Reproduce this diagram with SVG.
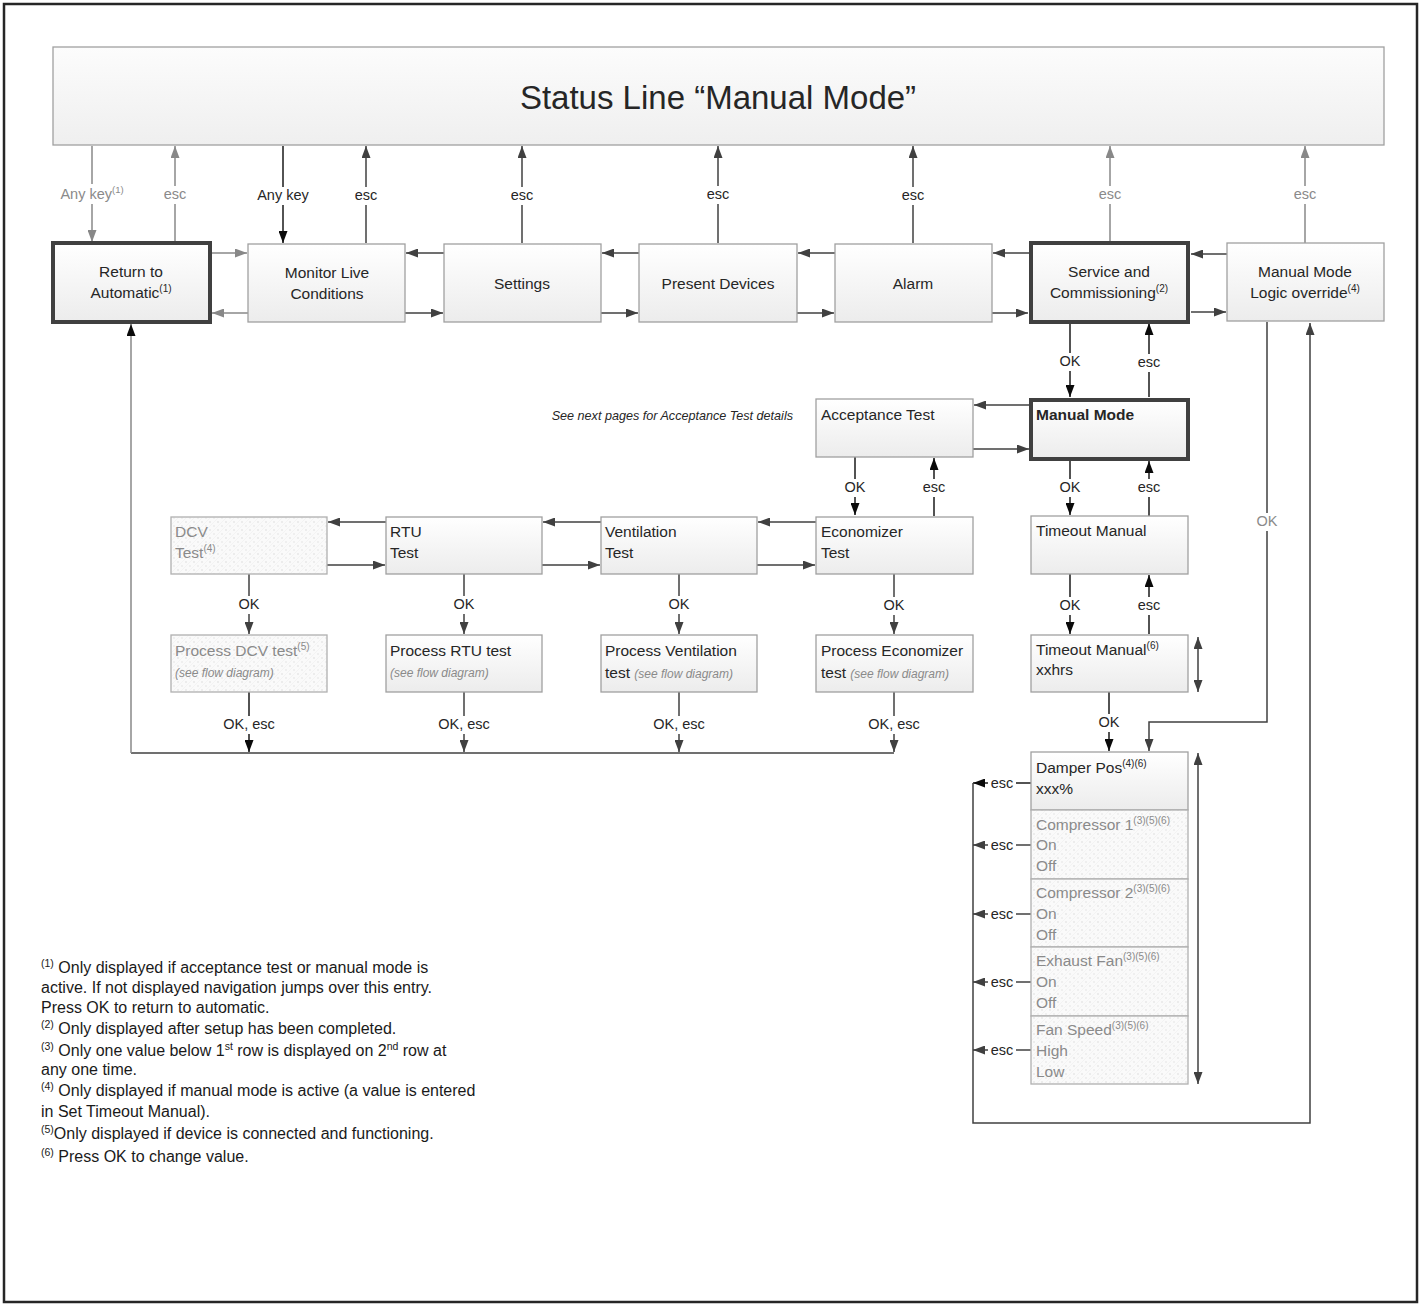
<svg xmlns="http://www.w3.org/2000/svg" width="1421" height="1306" viewBox="0 0 1421 1306">
<style>
text{font-family:"Liberation Sans",Arial,sans-serif;fill:#262626;}
.bx{fill:url(#gr);stroke:#a0a0a0;stroke-width:1.3;}
.thick{fill:url(#gr);stroke:#404040;stroke-width:4;}
.pat{fill:url(#pt);stroke:#b0b0b0;stroke-width:1.3;}
.t{font-size:15.5px;}
.c{text-anchor:middle;}
.g{fill:#8a8a8a;}
.sm{font-size:12px;font-style:italic;fill:#8a8a8a;}
.lbl{font-size:14.5px;text-anchor:middle;}
.bg{fill:#fff;}
.ln{fill:none;stroke:#404040;stroke-width:1.5;}
.lg{fill:none;stroke:#888;stroke-width:1.5;}
.lk{fill:none;stroke:#1a1a1a;stroke-width:1.5;}
.fn{font-size:16px;fill:#1a1a1a;}
</style>
<defs>
<linearGradient id="gr" x1="0" y1="0" x2="0" y2="1">
<stop offset="0" stop-color="#ffffff"/>
<stop offset="1" stop-color="#ececec"/>
</linearGradient>
<linearGradient id="gs" x1="0" y1="0" x2="0" y2="1">
<stop offset="0" stop-color="#fcfcfc"/>
<stop offset="1" stop-color="#efefef"/>
</linearGradient>
<pattern id="pt" width="8" height="8" patternUnits="userSpaceOnUse">
<rect width="8" height="8" fill="#fafafa"/>
<circle cx="2" cy="2" r="0.8" fill="#dcdcdc"/>
<circle cx="6" cy="6" r="0.8" fill="#e2e2e2"/>
<path d="M0,8 L8,0" stroke="#efefef" stroke-width="0.6"/>
</pattern>
<marker id="ad" viewBox="0 0 12 9" refX="12" refY="4.5" markerWidth="12" markerHeight="9" markerUnits="userSpaceOnUse" orient="auto-start-reverse"><path d="M0,0 L12,4.5 L0,9 z" fill="#404040"/></marker>
<marker id="ag" viewBox="0 0 12 9" refX="12" refY="4.5" markerWidth="12" markerHeight="9" markerUnits="userSpaceOnUse" orient="auto-start-reverse"><path d="M0,0 L12,4.5 L0,9 z" fill="#888"/></marker>
<marker id="ak" viewBox="0 0 12 9" refX="12" refY="4.5" markerWidth="12" markerHeight="9" markerUnits="userSpaceOnUse" orient="auto-start-reverse"><path d="M0,0 L12,4.5 L0,9 z" fill="#0a0a0a"/></marker>
</defs>
<rect x="0" y="0" width="1421" height="1306" fill="#fff"/>
<rect x="4" y="4" width="1413" height="1298" fill="none" stroke="#262626" stroke-width="2.5"/>

<g id="connectors">
<path class="lg" d="M92,146 V242" marker-end="url(#ag)"/>
<path class="lg" d="M175,241 V146" marker-end="url(#ag)"/>
<path class="lk" d="M283,146 V243" marker-end="url(#ak)"/>
<path class="ln" d="M366,243 V146" marker-end="url(#ad)"/>
<path class="ln" d="M522,243 V146" marker-end="url(#ad)"/>
<path class="ln" d="M718,243 V146" marker-end="url(#ad)"/>
<path class="ln" d="M913,243 V146" marker-end="url(#ad)"/>
<path class="lg" d="M1110,241 V146" marker-end="url(#ag)"/>
<path class="lg" d="M1305,243 V146" marker-end="url(#ag)"/>
<path class="lg" d="M212,253 H247" marker-end="url(#ag)"/>
<path class="lg" d="M248,313 H212" marker-end="url(#ag)"/>
<path class="ln" d="M444,253 H406" marker-end="url(#ad)"/>
<path class="ln" d="M405,313 H443" marker-end="url(#ad)"/>
<path class="ln" d="M639,253 H602" marker-end="url(#ad)"/>
<path class="ln" d="M601,313 H638" marker-end="url(#ad)"/>
<path class="ln" d="M835,253 H798" marker-end="url(#ad)"/>
<path class="ln" d="M797,313 H834" marker-end="url(#ad)"/>
<path class="ln" d="M1029,253 H993" marker-end="url(#ad)"/>
<path class="ln" d="M992,313 H1028" marker-end="url(#ad)"/>
<path class="ln" d="M1227,254 H1191" marker-end="url(#ad)"/>
<path class="ln" d="M1191,312 H1226" marker-end="url(#ad)"/>
<path class="lk" d="M1070,323 V397" marker-end="url(#ak)"/>
<path class="lk" d="M1149,397 V323" marker-end="url(#ak)"/>
<path class="ln" d="M1029,405 H974" marker-end="url(#ad)"/>
<path class="ln" d="M973,449 H1029" marker-end="url(#ad)"/>
<path class="lk" d="M855,457 V515" marker-end="url(#ak)"/>
<path class="lk" d="M934,516 V458" marker-end="url(#ak)"/>
<path class="lk" d="M1070,461 V515" marker-end="url(#ak)"/>
<path class="lk" d="M1149,516 V461" marker-end="url(#ak)"/>
<path class="ln" d="M816,522 H758" marker-end="url(#ad)"/>
<path class="ln" d="M757,565 H815" marker-end="url(#ad)"/>
<path class="ln" d="M601,522 H543" marker-end="url(#ad)"/>
<path class="ln" d="M542,565 H600" marker-end="url(#ad)"/>
<path class="ln" d="M386,522 H328" marker-end="url(#ad)"/>
<path class="ln" d="M327,565 H385" marker-end="url(#ad)"/>
<path class="ln" d="M249,574 V634" marker-end="url(#ad)"/>
<path class="ln" d="M464,574 V634" marker-end="url(#ad)"/>
<path class="ln" d="M679,574 V634" marker-end="url(#ad)"/>
<path class="ln" d="M894,574 V634" marker-end="url(#ad)"/>
<path class="lk" d="M1070,574 V634" marker-end="url(#ak)"/>
<path class="lk" d="M1149,634 V575" marker-end="url(#ak)"/>
<path class="ln" d="M1198,637 V692" marker-start="url(#ad)" marker-end="url(#ad)"/>
<path class="lk" d="M249,692 V752" marker-end="url(#ak)"/>
<path class="ln" d="M464,692 V752" marker-end="url(#ad)"/>
<path class="ln" d="M679,692 V752" marker-end="url(#ad)"/>
<path class="ln" d="M894,692 V752" marker-end="url(#ad)"/>
<path class="ln" d="M894,753 H131"/>
<path class="lg" d="M131,753 V324" marker-end="url(#ak)"/>
<path class="lk" d="M1109,692 V751" marker-end="url(#ak)"/>
<path class="ln" d="M1267,322 V722 H1149 V751" marker-end="url(#ad)"/>
<path class="ln" d="M1198,753 V1084" marker-start="url(#ad)" marker-end="url(#ad)"/>
<path class="lk" d="M1031,783 H973" marker-end="url(#ak)"/>
<path class="ln" d="M1031,845 H973" marker-end="url(#ad)"/>
<path class="ln" d="M1031,914 H973" marker-end="url(#ad)"/>
<path class="ln" d="M1031,982 H973" marker-end="url(#ad)"/>
<path class="ln" d="M1031,1050 H973" marker-end="url(#ad)"/>
<path class="ln" d="M973,783 V1123 H1310 V323" marker-end="url(#ad)"/>
</g>

<g id="labels">
<rect class="bg" x="57" y="184" width="70" height="20"/>
<rect class="bg" x="162" y="186" width="26" height="18"/>
<rect class="bg" x="255" y="187" width="56" height="18"/>
<rect class="bg" x="353" y="187" width="26" height="18"/>
<rect class="bg" x="509" y="187" width="26" height="18"/>
<rect class="bg" x="705" y="186" width="26" height="18"/>
<rect class="bg" x="900" y="187" width="26" height="18"/>
<rect class="bg" x="1097" y="186" width="26" height="18"/>
<rect class="bg" x="1292" y="186" width="26" height="18"/>
<rect class="bg" x="1058" y="353" width="24" height="18"/>
<rect class="bg" x="1136" y="354" width="26" height="18"/>
<rect class="bg" x="843" y="479" width="24" height="18"/>
<rect class="bg" x="921" y="479" width="26" height="18"/>
<rect class="bg" x="1058" y="479" width="24" height="18"/>
<rect class="bg" x="1136" y="479" width="26" height="18"/>
<rect class="bg" x="237" y="596" width="24" height="18"/>
<rect class="bg" x="452" y="596" width="24" height="18"/>
<rect class="bg" x="667" y="596" width="24" height="18"/>
<rect class="bg" x="882" y="597" width="24" height="18"/>
<rect class="bg" x="1058" y="597" width="24" height="18"/>
<rect class="bg" x="1136" y="597" width="26" height="18"/>
<rect class="bg" x="220" y="716" width="58" height="18"/>
<rect class="bg" x="435" y="716" width="58" height="18"/>
<rect class="bg" x="650" y="716" width="58" height="18"/>
<rect class="bg" x="865" y="716" width="58" height="18"/>
<rect class="bg" x="1097" y="714" width="24" height="18"/>
<rect class="bg" x="1255" y="513" width="24" height="18"/>
<rect class="bg" x="988" y="775" width="28" height="16"/>
<rect class="bg" x="988" y="837" width="28" height="16"/>
<rect class="bg" x="988" y="906" width="28" height="16"/>
<rect class="bg" x="988" y="974" width="28" height="16"/>
<rect class="bg" x="988" y="1042" width="28" height="16"/>
<text class="lbl g" x="92" y="199">Any key<tspan font-size="9.5" dy="-6">(1)</tspan></text>
<text class="lbl g" x="175" y="199">esc</text>
<text class="lbl" x="283" y="200">Any key</text>
<text class="lbl" x="366" y="200">esc</text>
<text class="lbl" x="522" y="200">esc</text>
<text class="lbl" x="718" y="199">esc</text>
<text class="lbl" x="913" y="200">esc</text>
<text class="lbl g" x="1110" y="199">esc</text>
<text class="lbl g" x="1305" y="199">esc</text>
<text class="lbl" x="1070" y="366">OK</text>
<text class="lbl" x="1149" y="367">esc</text>
<text class="lbl" x="855" y="492">OK</text>
<text class="lbl" x="934" y="492">esc</text>
<text class="lbl" x="1070" y="492">OK</text>
<text class="lbl" x="1149" y="492">esc</text>
<text class="lbl" x="249" y="609">OK</text>
<text class="lbl" x="464" y="609">OK</text>
<text class="lbl" x="679" y="609">OK</text>
<text class="lbl" x="894" y="610">OK</text>
<text class="lbl" x="1070" y="610">OK</text>
<text class="lbl" x="1149" y="610">esc</text>
<text class="lbl" x="249" y="729">OK, esc</text>
<text class="lbl" x="464" y="729">OK, esc</text>
<text class="lbl" x="679" y="729">OK, esc</text>
<text class="lbl" x="894" y="729">OK, esc</text>
<text class="lbl" x="1109" y="727">OK</text>
<text class="lbl g" x="1267" y="526">OK</text>
<text class="lbl" x="1002" y="788">esc</text>
<text class="lbl" x="1002" y="850">esc</text>
<text class="lbl" x="1002" y="919">esc</text>
<text class="lbl" x="1002" y="987">esc</text>
<text class="lbl" x="1002" y="1055">esc</text>
<text x="793" y="420" font-size="12.6" font-style="italic" text-anchor="end">See next pages for Acceptance Test details</text>
</g>

<g id="status-line">
<rect x="53" y="47" width="1331" height="98" fill="url(#gs)" stroke="#a0a0a0" stroke-width="1.3"/>
<text x="718" y="109" font-size="33" text-anchor="middle">Status Line “Manual Mode”</text>
</g>

<g id="return-to-automatic">
<rect class="thick" x="53" y="243" width="157" height="79"/>
<text class="t c" x="131" y="277">Return to</text>
<text class="t c" x="131" y="298">Automatic<tspan font-size="10" dy="-6">(1)</tspan></text>
</g>
<g id="monitor-live">
<rect class="bx" x="248" y="244" width="157" height="78"/>
<text class="t c" x="327" y="278">Monitor Live</text>
<text class="t c" x="327" y="299">Conditions</text>
</g>
<g id="settings">
<rect class="bx" x="444" y="244" width="157" height="78"/>
<text class="t c" x="522" y="289">Settings</text>
</g>
<g id="present-devices">
<rect class="bx" x="639" y="244" width="158" height="78"/>
<text class="t c" x="718" y="289">Present Devices</text>
</g>
<g id="alarm">
<rect class="bx" x="835" y="244" width="157" height="78"/>
<text class="t c" x="913" y="289">Alarm</text>
</g>
<g id="service-commissioning">
<rect class="thick" x="1031" y="243" width="157" height="79"/>
<text class="t c" x="1109" y="277">Service and</text>
<text class="t c" x="1109" y="298">Commissioning<tspan font-size="10" dy="-6">(2)</tspan></text>
</g>
<g id="manual-mode-logic-override">
<rect class="bx" x="1227" y="243" width="157" height="78"/>
<text class="t c" x="1305" y="277">Manual Mode</text>
<text class="t c" x="1305" y="298">Logic override<tspan font-size="10" dy="-6">(4)</tspan></text>
</g>

<g id="acceptance-test">
<rect class="bx" x="816" y="399" width="157" height="58"/>
<text class="t" x="821" y="420">Acceptance Test</text>
</g>
<g id="manual-mode">
<rect class="thick" x="1031" y="400" width="157" height="59"/>
<text class="t" x="1036" y="420" font-weight="bold">Manual Mode</text>
</g>

<g id="dcv-test">
<rect class="pat" x="171" y="517" width="156" height="57"/>
<text class="t g" x="175" y="537">DCV</text>
<text class="t g" x="175" y="558">Test<tspan font-size="10" dy="-6">(4)</tspan></text>
</g>
<g id="rtu-test">
<rect class="bx" x="386" y="517" width="156" height="57"/>
<text class="t" x="390" y="537">RTU</text>
<text class="t" x="390" y="558">Test</text>
</g>
<g id="ventilation-test">
<rect class="bx" x="601" y="517" width="156" height="57"/>
<text class="t" x="605" y="537">Ventilation</text>
<text class="t" x="605" y="558">Test</text>
</g>
<g id="economizer-test">
<rect class="bx" x="816" y="517" width="157" height="57"/>
<text class="t" x="821" y="537">Economizer</text>
<text class="t" x="821" y="558">Test</text>
</g>
<g id="timeout-manual">
<rect class="bx" x="1031" y="516" width="157" height="58"/>
<text class="t" x="1036" y="536">Timeout Manual</text>
</g>

<g id="process-dcv">
<rect class="pat" x="171" y="635" width="156" height="57"/>
<text class="t g" x="175" y="656">Process DCV test<tspan font-size="10" dy="-6">(5)</tspan></text>
<text class="sm" x="175" y="677">(see flow diagram)</text>
</g>
<g id="process-rtu">
<rect class="bx" x="386" y="635" width="156" height="57"/>
<text class="t" x="390" y="656">Process RTU test</text>
<text class="sm" x="390" y="677">(see flow diagram)</text>
</g>
<g id="process-ventilation">
<rect class="bx" x="601" y="635" width="156" height="57"/>
<text class="t" x="605" y="656">Process Ventilation</text>
<text class="t" x="605" y="678">test <tspan class="sm">(see flow diagram)</tspan></text>
</g>
<g id="process-economizer">
<rect class="bx" x="816" y="635" width="157" height="57"/>
<text class="t" x="821" y="656">Process Economizer</text>
<text class="t" x="821" y="678">test <tspan class="sm">(see flow diagram)</tspan></text>
</g>
<g id="timeout-manual-xxhrs">
<rect class="bx" x="1031" y="635" width="157" height="57"/>
<text class="t" x="1036" y="655">Timeout Manual<tspan font-size="10" dy="-6">(6)</tspan></text>
<text class="t" x="1036" y="675">xxhrs</text>
</g>

<g id="damper-pos">
<rect class="bx" x="1031" y="752" width="157" height="58"/>
<text class="t" x="1036" y="773">Damper Pos<tspan font-size="10" dy="-6">(4)(6)</tspan></text>
<text class="t" x="1036" y="794">xxx%</text>
</g>
<g id="compressor-1">
<rect class="pat" x="1031" y="810" width="157" height="69"/>
<text class="t g" x="1036" y="830">Compressor 1<tspan font-size="10" dy="-6">(3)(5)(6)</tspan></text>
<text class="t g" x="1036" y="850">On</text>
<text class="t g" x="1036" y="871">Off</text>
</g>
<g id="compressor-2">
<rect class="pat" x="1031" y="879" width="157" height="68"/>
<text class="t g" x="1036" y="898">Compressor 2<tspan font-size="10" dy="-6">(3)(5)(6)</tspan></text>
<text class="t g" x="1036" y="919">On</text>
<text class="t g" x="1036" y="940">Off</text>
</g>
<g id="exhaust-fan">
<rect class="pat" x="1031" y="947" width="157" height="69"/>
<text class="t g" x="1036" y="966">Exhaust Fan<tspan font-size="10" dy="-6">(3)(5)(6)</tspan></text>
<text class="t g" x="1036" y="987">On</text>
<text class="t g" x="1036" y="1008">Off</text>
</g>
<g id="fan-speed">
<rect class="pat" x="1031" y="1016" width="157" height="68"/>
<text class="t g" x="1036" y="1035">Fan Speed<tspan font-size="10" dy="-6">(3)(5)(6)</tspan></text>
<text class="t g" x="1036" y="1056">High</text>
<text class="t g" x="1036" y="1077">Low</text>
</g>

<g id="footnotes">
<text class="fn" x="41" y="973"><tspan font-size="10.5" dy="-6">(1)</tspan><tspan dy="6"> Only displayed if acceptance test or manual mode is</tspan></text>
<text class="fn" x="41" y="993">active. If not displayed navigation jumps over this entry.</text>
<text class="fn" x="41" y="1013">Press OK to return to automatic.</text>
<text class="fn" x="41" y="1034"><tspan font-size="10.5" dy="-6">(2)</tspan><tspan dy="6"> Only displayed after setup has been completed.</tspan></text>
<text class="fn" x="41" y="1056"><tspan font-size="10.5" dy="-6">(3)</tspan><tspan dy="6"> Only one value below 1</tspan><tspan font-size="10.5" dy="-6">st</tspan><tspan dy="6"> row is displayed on 2</tspan><tspan font-size="10.5" dy="-6">nd</tspan><tspan dy="6"> row at</tspan></text>
<text class="fn" x="41" y="1075">any one time.</text>
<text class="fn" x="41" y="1096"><tspan font-size="10.5" dy="-6">(4)</tspan><tspan dy="6"> Only displayed if manual mode is active (a value is entered</tspan></text>
<text class="fn" x="41" y="1117">in Set Timeout Manual).</text>
<text class="fn" x="41" y="1139"><tspan font-size="10.5" dy="-6">(5)</tspan><tspan dy="6">Only displayed if device is connected and functioning.</tspan></text>
<text class="fn" x="41" y="1162"><tspan font-size="10.5" dy="-6">(6)</tspan><tspan dy="6"> Press OK to change value.</tspan></text>
</g>
</svg>
